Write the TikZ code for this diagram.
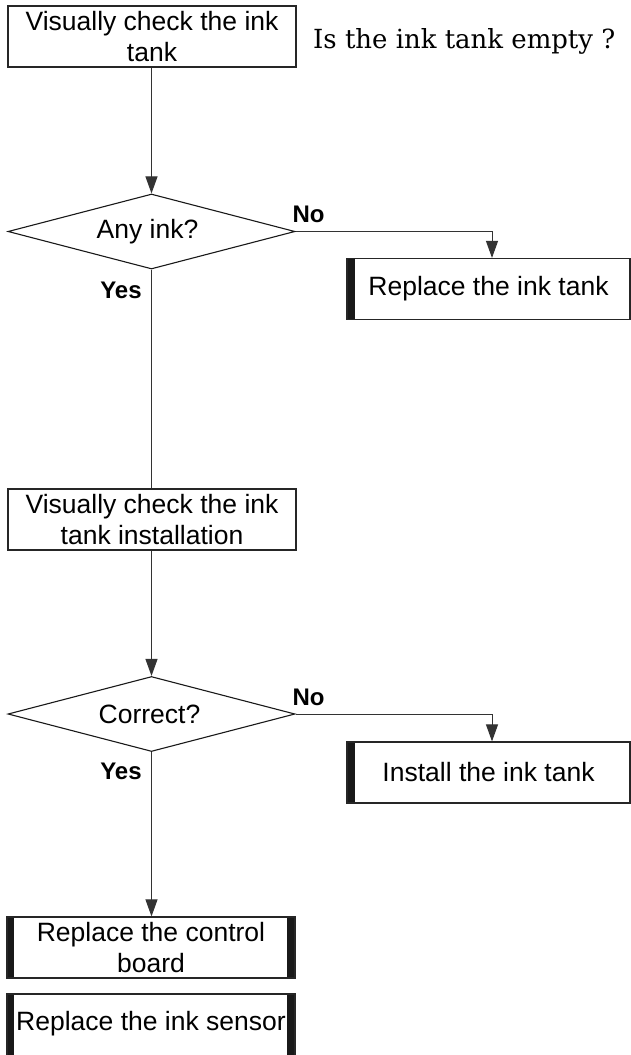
\documentclass[tikz,border=0pt]{standalone}
\usepackage{fontspec}
\usepackage{graphicx}
\setmainfont{Liberation Sans}
\newfontfamily\qserif{DejaVu Serif}
\usetikzlibrary{shapes.geometric,arrows.meta,calc}
\begin{document}
\begin{tikzpicture}[x=1pt,y=-1pt,
  txt/.style={font=\fontsize{26.5}{31}\selectfont},
  boxstyle/.style={draw=black!85, line width=1.2pt, rectangle, inner sep=0pt,
    minimum height=61pt, align=center, txt},
  leftbar/.style={path picture={\fill[black!90]
      ([xshift=-1pt]path picture bounding box.north west) rectangle
      ([xshift=#1]path picture bounding box.south west);}},
  bothbars/.style={path picture={\fill[black!90]
      ([xshift=-1pt]path picture bounding box.north west) rectangle
      ([xshift=7pt]path picture bounding box.south west);
      \fill[black!90]
      ([xshift=1pt]path picture bounding box.north east) rectangle
      ([xshift=-8pt]path picture bounding box.south east);}},
  decision/.style={diamond, draw=black!90, line width=1.1pt, inner sep=0pt,
    minimum width=287pt, minimum height=75pt, aspect=3.8, txt},
  answer/.style={inner sep=0pt, font=\bfseries\fontsize{24}{28}\selectfont},
  conn/.style={draw=black!80, line width=1pt},
  arr/.style={conn, -{Triangle[length=17pt,width=12pt]}}
]
\useasboundingbox (0,0) rectangle (631,1055);
\fill[white] (0,0) rectangle (631,1055);

% top box
\node[boxstyle, minimum width=288pt] (b1) at (152,36.5) {Visually check the ink\\tank};
\node[inner sep=0pt, anchor=base west] (q) at (313,48)
  {\resizebox{302pt}{20pt}{\qserif Is the ink tank empty ?}};

% decision 1
\node[decision] (d1) at (151.5,231.5) {Any ink?\hspace*{8pt}};
\node[answer] (no1) at (308.5,214.5) {No};
\node[answer] (yes1) at (121,290) {Yes};
\node[boxstyle, leftbar=8pt, minimum width=283pt] (b3) at (488.5,289) {Replace the ink tank};
\coordinate (k1) at (492,231.5);

% box 2
\node[boxstyle, minimum width=288pt] (b2) at (152,519.5) {Visually check the ink\\tank installation};

% decision 2
\node[decision] (d2) at (151.5,714) {Correct?\hspace*{4pt}};
\node[answer] (no2) at (308.5,697) {No};
\node[answer] (yes2) at (121,771.5) {Yes};
\node[boxstyle, leftbar=8pt, minimum width=283pt] (b4) at (488.5,772.5) {Install the ink tank};
\coordinate (k2) at (492,714);

% final boxes
\node[boxstyle, bothbars, minimum width=288pt] (b5) at (151,947.5) {Replace the control\\board};
\node[draw=black!85, line width=1.2pt, rectangle, inner sep=0pt, bothbars,
  minimum width=288pt, text height=36pt, text depth=30pt, anchor=base, txt]
  (b6) at (151,1030) {Replace the ink sensor};

% connectors
\draw[arr] (b1.south -| d1.north) -- (d1.north);
\draw[arr] (d1.east) -- (k1) -- (k1 |- b3.north);
\draw[conn] (d1.south) -- (d1.south |- b2.north);
\draw[arr] (b2.south -| d2.north) -- (d2.north);
\draw[arr] (d2.east) -- (k2) -- (k2 |- b4.north);
\draw[arr] (d2.south) -- (d2.south |- b5.north);
\end{tikzpicture}
\end{document}
